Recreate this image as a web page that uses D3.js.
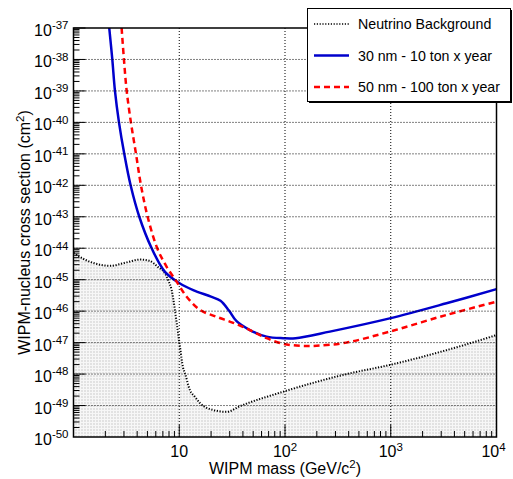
<!DOCTYPE html>
<html>
<head>
<meta charset="utf-8">
<script src="https://cdn.jsdelivr.net/npm/d3@7"></script>
<style>
  html, body { margin: 0; padding: 0; background: #fff; }
  svg { display: block; font-family: "Liberation Sans", Arial, Helvetica, sans-serif; }
</style>
</head>
<body>
<svg id="chart" width="513" height="479"></svg>
<script>
// ---- Data (log10 of mass in GeV, log10 of cross section in cm^2) ----
const bgLogMass  = [0.0, 0.1, 0.2, 0.345, 0.5, 0.63, 0.72, 0.8, 0.865, 0.9, 0.928, 0.959, 0.985, 1.007, 1.035, 1.054, 1.101, 1.148, 1.196, 1.319, 1.448, 1.574, 1.983, 2.582, 2.99, 3.527, 4.0];
const bgLogSigma = [-44.15, -44.35, -44.48, -44.56, -44.45, -44.36, -44.4, -44.6, -44.8, -45.05, -45.33, -45.96, -46.6, -47.13, -47.78, -47.97, -48.51, -48.72, -48.92, -49.14, -49.2, -49.02, -48.56, -48.0, -47.71, -47.24, -46.76];

const blueLogMass  = [0.338, 0.367, 0.392, 0.43, 0.48, 0.54, 0.622, 0.739, 0.865, 1.007, 1.132, 1.3, 1.39, 1.47, 1.542, 1.668, 1.826, 1.983, 2.1, 2.424, 2.99, 3.527, 4.0];
const blueLogSigma = [-37, -38, -39, -40, -41, -42, -43, -44, -44.75, -45.12, -45.33, -45.54, -45.67, -45.98, -46.32, -46.6, -46.81, -46.86, -46.86, -46.65, -46.23, -45.75, -45.30];

const redLogMass  = [0.455, 0.477, 0.503, 0.543, 0.591, 0.638, 0.701, 0.792, 0.881, 0.975, 1.07, 1.196, 1.353, 1.51, 1.668, 1.826, 1.983, 2.141, 2.3, 2.58, 2.99, 3.527, 4.0];
const redLogSigma = [-37, -38, -39, -40, -41, -42, -43, -44, -44.59, -45.06, -45.54, -45.96, -46.18, -46.37, -46.6, -46.86, -47.04, -47.1, -47.1, -47.0, -46.65, -46.12, -45.7];

const seriesNames = ["Neutrino Background", "30 nm - 10 ton x year", "50 nm - 100 ton x year"];
const xTickValues = [10, 100, 1000, 10000];
const xTickExp    = ["", "2", "3", "4"];
const yTickExp    = [-37, -38, -39, -40, -41, -42, -43, -44, -45, -46, -47, -48, -49, -50];
const xTitle = "WIPM mass (GeV/c";
const yTitle = "WIPM-nucleus cross section (cm";

// ---- Layout ----
const L = 73.5, R = 496.5, T = 28, B = 437;
const svg = d3.select("#chart");
const x = d3.scaleLog().domain([1, 1e4]).range([L, R]);
const y = d3.scaleLog().domain([1e-50, 1e-37]).range([B, T]);

const toPts = (lm, ls) => lm.map((m, i) => [Math.pow(10, m), Math.pow(10, ls[i])]);
const bg = toPts(bgLogMass, bgLogSigma);
const blue = toPts(blueLogMass, blueLogSigma);
const red = toPts(redLogMass, redLogSigma);

const defs = svg.append("defs");
defs.append("clipPath").attr("id", "clip").append("rect")
  .attr("x", L).attr("y", T).attr("width", R - L).attr("height", B - T);
const pat = defs.append("pattern").attr("id", "fillpat")
  .attr("patternUnits", "userSpaceOnUse").attr("width", 3).attr("height", 3);
pat.append("rect").attr("width", 3).attr("height", 3).attr("fill", "#f7f7f7");
pat.append("rect").attr("width", 2).attr("height", 2).attr("fill", "#e2e2e2");

const plot = svg.append("g").attr("clip-path", "url(#clip)");

// Fill under neutrino background
const area = d3.area().x(d => x(d[0])).y0(B).y1(d => y(d[1])).curve(d3.curveMonotoneX);
plot.append("path").datum(bg).attr("d", area).attr("fill", "url(#fillpat)");

// Grid
const gridG = svg.append("g");
xTickValues.slice(0, 3).forEach(v => {
  gridG.append("line").attr("x1", x(v)).attr("x2", x(v)).attr("y1", T).attr("y2", B)
    .attr("stroke", "#000").attr("stroke-width", 1).attr("stroke-dasharray", "1,2");
});
yTickExp.slice(1, -1).forEach(e => {
  const yy = y(Math.pow(10, e));
  gridG.append("line").attr("x1", L).attr("x2", R).attr("y1", yy).attr("y2", yy)
    .attr("stroke", "#000").attr("stroke-width", 1).attr("stroke-dasharray", "1,2");
});

// Curves
const lineMono = d3.line().x(d => x(d[0])).y(d => y(d[1])).curve(d3.curveMonotoneX);
const lineSmooth = d3.line().x(d => x(d[0])).y(d => y(d[1])).curve(d3.curveCatmullRom.alpha(0.5));
plot.append("path").datum(bg).attr("d", lineMono).attr("fill", "none")
  .attr("stroke", "#000").attr("stroke-width", 2).attr("stroke-dasharray", "1.2,1.6");
plot.append("path").datum(blue).attr("d", lineSmooth).attr("fill", "none")
  .attr("stroke", "#0000cc").attr("stroke-width", 2.5);
plot.append("path").datum(red).attr("d", lineSmooth).attr("fill", "none")
  .attr("stroke", "#ff0000").attr("stroke-width", 2.5).attr("stroke-dasharray", "6,4");

// Frame
svg.append("rect").attr("x", L).attr("y", T).attr("width", R - L).attr("height", B - T)
  .attr("fill", "none").attr("stroke", "#000").attr("stroke-width", 1.5);

// Ticks
const isMajor = v => Math.abs(Math.log10(v) - Math.round(Math.log10(v))) < 1e-6;
const tickG = svg.append("g").attr("stroke", "#000").attr("stroke-width", 1);
x.ticks(20).forEach(v => {
  const len = isMajor(v) ? 12 : 6;
  tickG.append("line").attr("x1", x(v)).attr("x2", x(v)).attr("y1", B).attr("y2", B - len);
});
y.ticks(20).forEach(v => {
  const len = isMajor(v) ? 12 : 6;
  tickG.append("line").attr("x1", L).attr("x2", L + len).attr("y1", y(v)).attr("y2", y(v));
});

// Tick labels
const lab = svg.append("g").attr("fill", "#000");
yTickExp.forEach(e => {
  const t = lab.append("text").attr("x", 68.5).attr("y", y(Math.pow(10, e)) + 8)
    .attr("text-anchor", "end").attr("font-size", 16).text("10");
  t.append("tspan").attr("dy", -6.7).attr("font-size", 11.5).text("-" + Math.abs(e));
});
xTickValues.forEach((v, i) => {
  const t = lab.append("text").attr("x", x(v) + (i === 3 ? -3 : 0)).attr("y", 457.3)
    .attr("text-anchor", "middle").attr("font-size", 16).text("10");
  if (xTickExp[i]) t.append("tspan").attr("dy", -6.7).attr("font-size", 11.5).text(xTickExp[i]);
});

// Axis titles
const xt = lab.append("text").attr("x", (L + R) / 2).attr("y", 474)
  .attr("text-anchor", "middle").attr("font-size", 16).text(xTitle);
xt.append("tspan").attr("dy", -6.5).attr("font-size", 11.5).text("2");
xt.append("tspan").attr("dy", 6.5).text(")");

const yt = lab.append("text").attr("transform", `translate(30,${(T + B) / 2}) rotate(-90)`)
  .attr("text-anchor", "middle").attr("font-size", 16).text(yTitle);
yt.append("tspan").attr("dy", -6.5).attr("font-size", 11.5).text("2");
yt.append("tspan").attr("dy", 6.5).text(")");

// Legend
const lg = svg.append("g");
lg.append("rect").attr("x", 309).attr("y", 10).attr("width", 203).attr("height", 93).attr("fill", "#000");
lg.append("rect").attr("x", 307.5).attr("y", 8.5).attr("width", 203).attr("height", 93)
  .attr("fill", "#fff").attr("stroke", "#000").attr("stroke-width", 1);
const rows = [24, 55.5, 87];
const styles = [
  {stroke: "#000", w: 1.5, dash: "1.2,1.6"},
  {stroke: "#0000cc", w: 2.5, dash: null},
  {stroke: "#ff0000", w: 2.5, dash: "6,4"}
];
seriesNames.forEach((name, i) => {
  const s = styles[i];
  const ln = lg.append("line").attr("x1", 314).attr("x2", 349).attr("y1", rows[i]).attr("y2", rows[i])
    .attr("stroke", s.stroke).attr("stroke-width", s.w);
  if (s.dash) ln.attr("stroke-dasharray", s.dash);
  lg.append("text").attr("x", 358).attr("y", rows[i] + 5).attr("font-size", 14.2).attr("fill", "#000").text(name);
});
</script>
</body>
</html>
